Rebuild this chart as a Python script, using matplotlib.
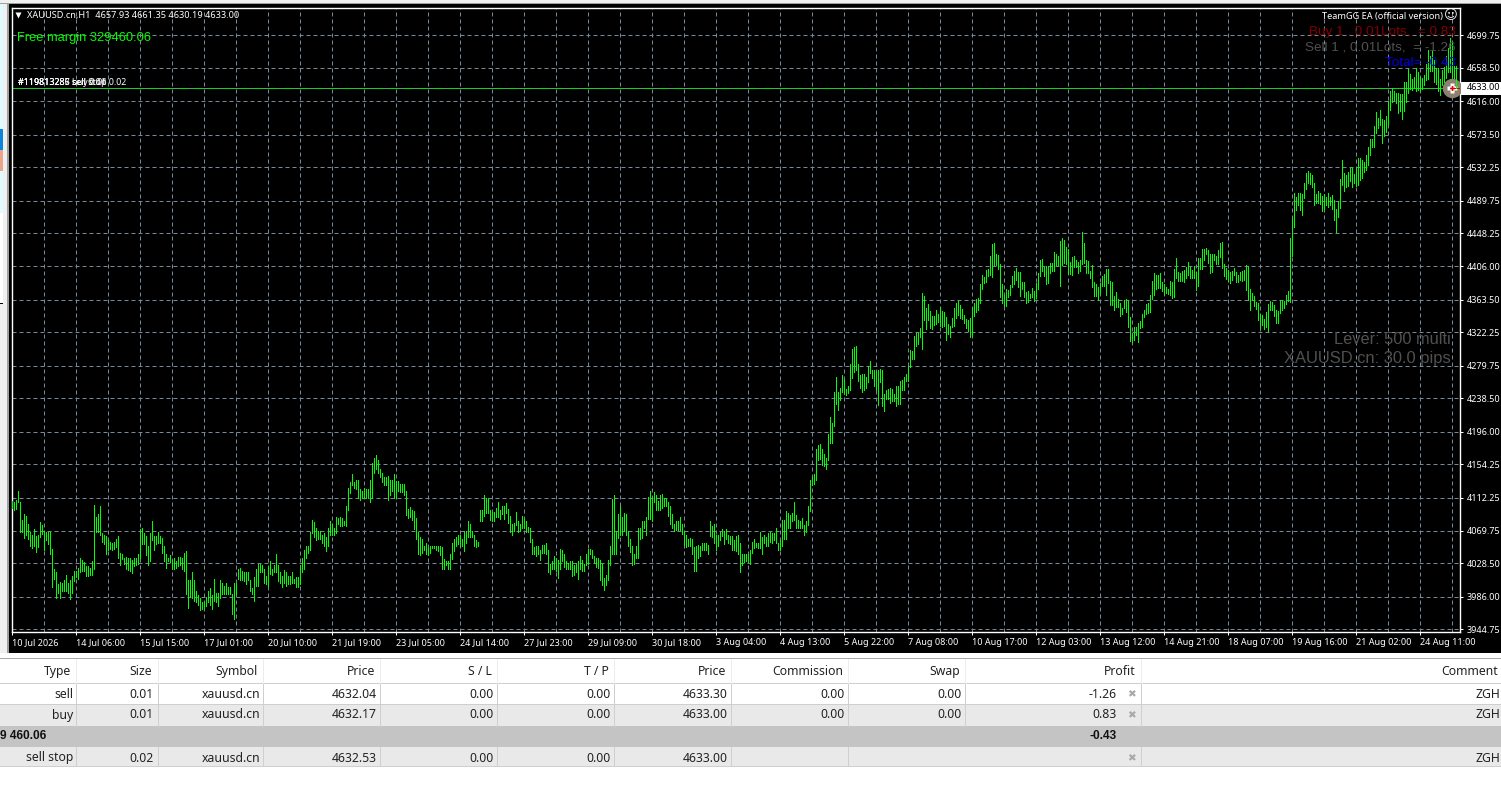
import matplotlib
matplotlib.use("Agg")
import matplotlib.pyplot as plt
from matplotlib.patches import Rectangle

W, H = 1501, 807

# H1 bars of the chart
highs = [
    4108,4106,4109,4121,4107,4084,4091,4089,4078,4069,
    4064,4072,4063,4064,4081,4077,4070,4069,4068,4068,
    4047,4021,4018,4002,4005,4004,4007,4014,4003,4007,
    4012,4019,4019,4023,4035,4033,4030,4025,4025,4023,
    4032,4103,4088,4091,4101,4067,4065,4063,4058,4056,
    4054,4056,4060,4063,4042,4040,4035,4037,4036,4035,
    4033,4035,4036,4040,4072,4074,4067,4063,4051,4067,
    4082,4063,4063,4068,4063,4061,4051,4040,4036,4039,
    4033,4036,4032,4037,4037,4035,4042,4044,4008,4007,
    4017,4008,3993,3988,3985,3980,3980,3986,3993,3997,
    3988,4009,3991,3991,4007,4003,4000,4003,3999,3999,
    3989,4004,4004,4021,4023,4019,4017,4017,4018,
    # 20 Jul onwards
    4008,3997,4011,4021,4028,4028,4027,4021,4012,4025,
    4031,4022,4026,4041,4026,4017,4013,4020,4018,4013,
    4012,4018,4009,4011,4011,4027,4036,4045,4051,4051,
    4068,4084,4081,4073,4070,4070,4064,4067,4062,4074,
    4083,4079,4073,4087,4086,4087,4086,4083,4102,4124,
    4132,4142,4132,4134,4135,4123,4120,4124,4123,4123,
    4134,4156,4163,4166,4160,4148,4143,4138,4138,4140,
    4134,4135,4142,4133,4133,4130,4130,4129,4120,4098,
    4100,4096,4095,4086,4068,4062,4060,4051,4054,4049,
    4051,4051,4050,4051,4051,4050,4049,4034,4031,4032,
    4040,4054,4059,4062,4064,4064,4060,4070,4070,4082,
    4078,4070,4065,4058,4056,
    # 24 Jul onwards
    4097,4097,4116,4112,4112,4096,4094,4094,4099,4106,
    4097,4101,4102,4105,4098,4089,4079,4080,4094,4083,
    4079,4089,4085,4083,4075,4074,4060,4049,4051,4050,
    4046,4052,4052,4055,4046,4028,4032,4038,4036,4033,
    4047,4046,4041,4031,4029,4031,4031,4026,4029,4031,
    4038,4033,4028,4040,4047,4047,4045,4038,4035,4036,
    4033,4028,4010,4014,4033,4051,4110,4116,4070,4091,
    4102,4087,4093,4091,4070,4060,4051,4041,4051,4073,
    4073,4083,4083,4087,4113,4120,4113,4119,4116,4108,
    4115,4117,4112,4112,4107,4102,4091,4079,4082,4083,
    4088,4079,4070,4064,4059,4061,4059,4049,4050,4052,
    4050,4055,4055,4055,4052,
    # 31 Jul onwards
    4083,4076,4079,4064,4065,4068,4072,4070,4072,4065,
    4063,4063,4058,4063,4065,4054,4040,4041,4040,4041,
    4045,4056,4059,4055,4055,4069,4062,4065,4062,4067,
    4068,4067,4067,4073,4055,4058,4084,4084,4095,4092,
    4090,4093,4106,4090,4084,4082,4086,4077,4083,4102,
    4135,4140,4142,4174,4179,4180,4174,4167,4162,4193,
    4214,4207,4247,4265,4247,4252,4268,4261,4250,4254,
    4282,4301,4303,4305,4282,4268,4269,4269,4265,4279,
    4286,4274,4274,4273,4274,4275,4274,4244,4249,4250,
    4251,4250,4244,4254,4254,4260,4261,4266,4269,4280,
    4300,4298,4317,4321,4321,4328,
    # 7 Aug onwards
    4372,4368,4353,4358,4349,4343,4343,4350,4345,4354,
    4349,4348,4342,4333,4330,4340,4353,4359,4362,4357,
    4352,4344,4339,4338,4340,4354,4359,4364,4366,4384,
    4395,4392,4401,4403,4419,4434,4436,4422,4420,4409,
    4384,4370,4377,4376,4382,4394,4400,4404,4399,4399,
    4386,4386,4373,4375,4371,4378,4375,4385,4398,4414,
    4415,4405,4406,4406,4410,4410,4424,4422,4419,4438,
    4442,4440,4431,4428,4412,4418,4419,4414,4412,4414,
    4450,4436,4414,4413,4400,4408,4386,4384,4380,4385,
    4394,4396,4403,4403,4387,4386,4368,4373,4364,4359,
    4353,4363,4364,4362,4342,4322,4329,4329,4334,
    # 13 Aug onwards
    4336,4345,4350,4358,4359,4370,4387,4398,4395,4395,
    4398,4386,4384,4380,4377,4387,4386,4403,4417,4399,
    4398,4400,4401,4405,4412,4405,4401,4406,4399,4417,
    4417,4428,4428,4429,4427,4422,4422,4422,4419,4427,
    4436,4437,4409,4404,4401,4399,4400,4404,4399,4395,
    4399,4400,4401,4408,4406,4377,4372,4368,4361,4359,
    4345,4344,4339,4348,4358,4362,4361,4357,4350,4349,
    4363,4363,4362,4370,4375,4442,
    # 19 Aug onwards
    4469,4499,4494,4499,4499,4498,4512,4525,4527,4525,
    4522,4512,4498,4502,4499,4495,4498,4494,4499,4494,
    4497,4490,4479,4489,4517,4541,4525,4522,4526,4532,
    4531,4523,4532,4544,4544,4541,4539,4548,4558,4568,
    4568,4585,4602,4595,4605,4593,4592,4597,4616,4629,
    4633,4629,4627,4627,4625,4625,4640,4640,4657,4651,
    4644,4647,4658,4653,4647,4646,4649,4663,4681,4674,
    4681,4669,4658,4658,4644,4656,4660,4674,4684,4696,
    4690,4661,
]
lows = [
    4099,4097,4098,4106,4069,4068,4061,4064,4060,4051,
    4048,4050,4043,4049,4062,4066,4045,4058,4053,4041,
    3999,4009,3985,3991,3985,3993,3994,3993,3991,3983,
    3991,4006,4011,4009,4018,4019,4019,4013,4013,4014,
    4014,4022,4069,4069,4064,4056,4053,4041,4046,4047,
    4046,4047,4049,4035,4027,4034,4028,4021,4020,4019,
    4016,4025,4026,4028,4035,4053,4053,4039,4026,4032,
    4058,4046,4053,4054,4055,4042,4031,4023,4031,4030,
    4022,4022,4023,4025,4027,4021,4019,3989,3972,3986,
    3985,3981,3979,3975,3969,3971,3972,3974,3979,3975,
    3970,3981,3979,3974,3984,3989,3990,3989,3989,3989,
    3964,3958,3989,4009,4007,4007,4006,4002,4008,
    # 20 Jul onwards
    3993,3989,3981,4000,4000,4017,4017,4004,4002,4000,
    4015,4014,4017,4018,4006,4004,3998,4004,4000,4002,
    4002,4003,4004,3999,3999,4002,4017,4021,4036,4042,
    4045,4067,4062,4058,4060,4060,4054,4051,4044,4050,
    4064,4065,4065,4067,4078,4076,4076,4077,4076,4096,
    4118,4128,4124,4123,4112,4109,4111,4112,4112,4112,
    4106,4111,4143,4148,4143,4138,4132,4128,4128,4109,
    4115,4121,4111,4111,4121,4119,4119,4116,4090,4086,
    4087,4084,4072,4060,4040,4039,4042,4045,4041,4039,
    4042,4048,4048,4045,4044,4039,4022,4022,4026,4021,
    4022,4034,4044,4050,4053,4050,4050,4044,4055,4062,
    4062,4062,4050,4049,4050,
    # 24 Jul onwards
    4083,4083,4089,4092,4092,4084,4083,4083,4088,4087,
    4085,4091,4085,4092,4080,4069,4064,4070,4077,4069,
    4070,4074,4074,4069,4069,4056,4041,4040,4038,4041,
    4033,4042,4042,4041,4018,4015,4022,4022,4019,4010,
    4021,4031,4024,4021,4021,4022,4013,4014,4017,4009,
    4022,4019,4019,4026,4028,4040,4035,4029,4024,4023,
    4008,4001,3995,4001,4007,4026,4041,4041,4041,4061,
    4064,4065,4070,4064,4050,4043,4027,4028,4035,4036,
    4059,4061,4073,4064,4085,4085,4082,4106,4097,4097,
    4097,4099,4101,4102,4089,4079,4073,4070,4071,4071,
    4071,4066,4052,4049,4050,4051,4040,4019,4019,4036,
    4038,4045,4046,4046,4041,
    # 31 Jul onwards
    4063,4062,4055,4045,4051,4058,4063,4053,4059,4054,
    4053,4045,4045,4044,4041,4018,4026,4030,4031,4030,
    4028,4042,4048,4049,4048,4048,4041,4055,4051,4050,
    4056,4055,4058,4054,4045,4045,4051,4060,4060,4074,
    4074,4083,4084,4074,4074,4074,4074,4064,4069,4077,
    4095,4128,4129,4134,4160,4161,4153,4152,4149,4160,
    4182,4182,4203,4231,4223,4236,4246,4244,4242,4245,
    4249,4264,4272,4274,4260,4252,4246,4249,4252,4259,
    4270,4264,4254,4249,4230,4259,4228,4222,4237,4238,
    4232,4235,4235,4228,4231,4231,4249,4249,4260,4260,
    4278,4288,4288,4305,4307,4316,
    # 7 Aug onwards
    4301,4338,4326,4338,4328,4326,4331,4333,4335,4330,
    4329,4330,4312,4320,4316,4329,4330,4340,4344,4340,
    4339,4334,4328,4324,4316,4317,4343,4348,4350,4359,
    4377,4385,4386,4394,4395,4392,4408,4408,4403,4367,
    4359,4356,4356,4367,4370,4380,4384,4389,4380,4368,
    4377,4367,4359,4361,4366,4367,4362,4366,4377,4394,
    4400,4394,4384,4385,4398,4400,4400,4408,4408,4381,
    4408,4410,4409,4396,4396,4395,4405,4405,4398,4400,
    4409,4410,4398,4398,4391,4380,4368,4368,4363,4372,
    4381,4381,4370,4385,4357,4357,4350,4354,4354,4343,
    4345,4353,4348,4329,4311,4310,4312,4319,4310,
    # 13 Aug onwards
    4328,4329,4342,4345,4347,4348,4364,4370,4377,4378,
    4378,4375,4370,4372,4371,4370,4366,4367,4391,4387,
    4387,4387,4386,4391,4395,4391,4391,4391,4376,4381,
    4403,4403,4414,4422,4410,4398,4399,4414,4409,4409,
    4418,4404,4394,4390,4387,4385,4389,4395,4386,4386,
    4389,4387,4389,4376,4363,4350,4363,4356,4352,4338,
    4328,4331,4326,4329,4324,4350,4350,4343,4334,4334,
    4347,4350,4353,4358,4362,4361,
    # 19 Aug onwards
    4419,4456,4478,4484,4478,4471,4493,4504,4512,4511,
    4507,4484,4487,4487,4485,4476,4479,4484,4481,4484,
    4479,4465,4450,4469,4480,4509,4502,4507,4508,4515,
    4507,4512,4508,4509,4516,4518,4526,4529,4535,4548,
    4558,4558,4576,4582,4586,4563,4572,4577,4586,4605,
    4615,4618,4614,4601,4604,4593,4604,4615,4627,4632,
    4630,4634,4629,4630,4629,4632,4637,4643,4644,4655,
    4655,4641,4638,4629,4624,4637,4641,4646,4653,4653,
    4643,4630,
]

price_ticks = [4699.75, 4658.50, 4616.00, 4573.50, 4532.25, 4489.75, 4448.25,
               4406.00, 4363.50, 4322.25, 4279.75, 4238.50, 4196.00, 4154.25,
               4112.25, 4069.75, 4028.50, 3986.00, 3944.75]
time_labels = ["10 Jul 2026", "14 Jul 06:00", "15 Jul 15:00", "17 Jul 01:00",
               "20 Jul 10:00", "21 Jul 19:00", "23 Jul 05:00", "24 Jul 14:00",
               "27 Jul 23:00", "29 Jul 09:00", "30 Jul 18:00", "3 Aug 04:00",
               "4 Aug 13:00", "5 Aug 22:00", "7 Aug 08:00", "10 Aug 17:00",
               "12 Aug 03:00", "13 Aug 12:00", "14 Aug 21:00", "18 Aug 07:00",
               "19 Aug 16:00", "21 Aug 02:00", "24 Aug 11:00"]
last_price = 4633.00

# terminal table under the chart
headers = ["Type", "Size", "Symbol", "Price", "S / L", "T / P", "Price", "Commission", "Swap", "Profit", "Comment"]
row_sell = ["sell", "0.01", "xauusd.cn", "4632.04", "0.00", "0.00", "4633.30", "0.00", "0.00", "-1.26", "ZGH"]
row_buy = ["buy", "0.01", "xauusd.cn", "4632.17", "0.00", "0.00", "4633.00", "0.00", "0.00", "0.83", "ZGH"]
row_stop = ["sell stop", "0.02", "xauusd.cn", "4632.53", "0.00", "0.00", "4633.00", "", "", "", "ZGH"]
total_balance = "9 460.06"
total_profit = "-0.43"

col_edges = [76, 158, 263, 380, 497, 614, 731, 848, 965, 1141]
col_right = [73, 154, 260, 377, 494, 611, 728, 845, 962, 1117, 1500]
head_right = [71, 152, 258, 375, 492, 609, 726, 843, 960, 1136, 1498]

fig = plt.figure(figsize=(W / 100, H / 100), dpi=100, facecolor="white")
plt.rcParams["font.family"] = ["Noto Sans", "DejaVu Sans"]

# pixel layer for the window chrome and the table
ui = fig.add_axes([0, 0, 1, 1], zorder=0)
ui.set_xlim(0, W)
ui.set_ylim(H, 0)
ui.axis("off")

def box(x0, y0, x1, y1, color):
    ui.add_patch(Rectangle((x0, y0), x1 - x0, y1 - y0, facecolor=color, edgecolor="none"))

box(0, 0, W, 4, "#f0f0f0")
box(0, 3, W, 4, "#a0a0a0")
box(9, 4, W, 653, "black")
box(0, 4, 3, 213, "#e0fbff")
box(0, 129, 3, 150, "#0a84dc")
box(0, 150, 3, 171, "#eca48a")
box(3, 4, 7, 653, "#f0f0f0")
box(0, 303, 3, 653, "#f0f0f0")
box(0, 303, 3, 304, "black")
box(7, 4, 9, 653, "#a0a0a0")
box(1461, 82, W, 95, "white")

# table
box(0, 658, W, 659, "#a9a9a9")
box(0, 683, W, 684, "#cfcfcf")
box(0, 705, W, 726, "#e9e9e9")
box(0, 704, W, 705, "#cfcfcf")
box(0, 726, W, 747, "#c4c4c4")
box(0, 747, W, 766, "#e9e9e9")
box(0, 766, W, 767, "#cfcfcf")
for x in col_edges:
    ui.plot([x, x], [659, 683], color="#ececec", lw=0.72)
    ui.plot([x, x], [684, 726], color="#cfcfcf", lw=0.72)
    if x < 850 or x == 1141:
        ui.plot([x, x], [747, 766], color="#cfcfcf", lw=0.72)

for label, right in zip(headers, head_right):
    ui.text(right, 671.5, label, ha="right", va="center", fontsize=8.8, color="#222222")
for row, y in zip([row_sell, row_buy, row_stop], [694, 715, 758]):
    for value, right in zip(row, col_right):
        ui.text(right, y, value, ha="right", va="center", fontsize=8.8, color="#222222")
    ui.text(1131, y, "\u2716", ha="center", va="center", fontsize=7.5, color="#a8a8a8", family="DejaVu Sans")
ui.text(46, 736, total_balance, ha="right", va="center", fontsize=8.6, fontweight="bold",
        color="#111111", family="Liberation Sans")
ui.text(1117, 736, total_profit, ha="right", va="center", fontsize=8.6, fontweight="bold",
        color="#111111", family="Liberation Sans")

# chart axes: 2 px a bar, 33 px a price step
ax = fig.add_axes([12 / W, 1 - 632 / H, (1460 - 12) / W, (632 - 8) / H], zorder=1, facecolor="black")
bars = range(len(highs))
ax.set_xlim(-0.165, 723.8)
ax.set_ylim(3941.3, 4734.5)

ax.set_xticks(list(range(0, 32 * len(time_labels), 32)), time_labels)
ax.set_xticks(list(range(16, 736, 32)), minor=True)
ax.set_yticks(price_ticks, [f"{p:.2f}" for p in price_ticks])
ax.yaxis.tick_right()
ax.tick_params(axis="x", which="major", colors="white", labelsize=6.5, length=2.2, width=0.72, pad=2, direction="out")
ax.tick_params(axis="x", which="minor", length=0)
ax.tick_params(axis="y", colors="white", labelsize=6.5, length=2.2, width=0.72, pad=2.5)
for label in ax.get_xticklabels():
    label.set_ha("left")
ax.grid(True, which="both", color="#778899", linestyle=(0, (4, 3)), linewidth=0.72)
ax.set_axisbelow(True)
for spine in ax.spines.values():
    spine.set_color("white")
    spine.set_linewidth(1.0)

ax.axhline(last_price, color="#778899", lw=0.72, zorder=2)
ax.axhline(last_price, color="#00e000", lw=0.72, linestyle=(0, (12, 3)), zorder=2.1)
ax.vlines(bars, lows, highs, color="#00ff00", linewidth=0.72, antialiased=False, zorder=3)

# current price tag on the axis
ytrans = ax.get_yaxis_transform()
ax.text(1.0045, last_price, f"{last_price:.2f}", transform=ytrans, ha="left", va="center", fontsize=6.5,
        color="black", clip_on=False)

# close-position marker at the last bar
ax.plot([720], [last_price], "o", ms=14, color="#8c8070", mec="none", zorder=4)
ax.plot([720], [last_price], "P", ms=7, color="white", mec="none", zorder=5)
ax.plot([720], [last_price], "P", ms=3.5, color="#e00000", mec="none", zorder=6)
ax.plot([720, 723.8], [last_price, last_price], color="#e00000", lw=0.72, zorder=6)
ax.plot([722, 722], [last_price, 4661], color="#00ff00", lw=0.72, zorder=7, antialiased=False)

# overlay texts
ov = fig.add_axes([0, 0, 1, 1], zorder=2)
ov.set_xlim(0, W)
ov.set_ylim(H, 0)
ov.axis("off")
ov.plot([18], [15], "v", ms=5, color="white", mec="none")
ov.text(27, 15.5, "XAUUSD.cn,H1  4657.93 4661.35 4630.19 4633.00", color="white", fontsize=6.6, va="center")
ov.text(17, 38, "Free margin 329460.06", color="#00ff00", fontsize=9.3, va="center", family="Liberation Sans")
for txt in ["#119813285 sell stop 0.02", "#119813286 sell 0.01", "#119813287 buy 0.01"]:
    ov.text(18.5, 82.5, txt, color="white", fontsize=6.4, va="center")
ov.text(1443, 16.5, "TeamGG EA (official version)", color="white", fontsize=6.6, ha="right", va="center")
ov.text(1450.5, 16, "\u263a", color="white", fontsize=9.5, ha="center", va="center", family="DejaVu Sans")
ov.text(1456, 32.5, "Buy 1 , 0.01Lots,  = 0.83", color="#800000", fontsize=9.7, ha="right", va="center", family="Liberation Sans")
ov.text(1456, 47.5, "Sell 1 , 0.01Lots,  = -1.26", color="#505050", fontsize=9.7, ha="right", va="center", family="Liberation Sans")
ov.text(1456, 63, "Total= -0.43", color="#0000e0", fontsize=9.7, ha="right", va="center", family="Liberation Sans")
ov.text(1451, 339, "Lever: 500 multi", color="#505050", fontsize=11.8, ha="right", va="center", family="Liberation Sans")
ov.text(1451, 359, "XAUUSD.cn: 30.0 pips", color="#505050", fontsize=11.9, ha="right", va="center", family="Liberation Sans")

fig.savefig("out.png", dpi=100)
